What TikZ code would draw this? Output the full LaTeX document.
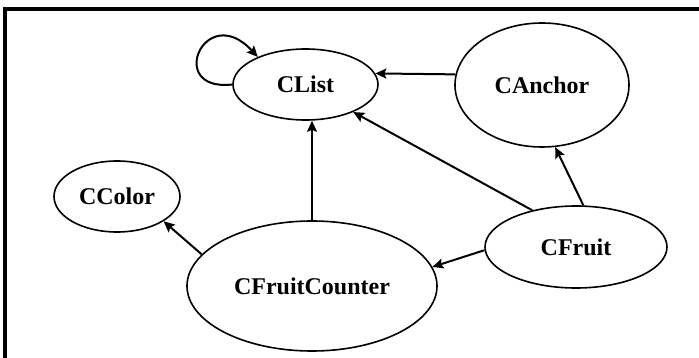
\documentclass[tikz,border=0pt]{standalone}
\usepackage{fontspec}
\setmainfont{Liberation Serif}
\usetikzlibrary{arrows.meta, shapes.geometric}
\begin{document}
\begin{tikzpicture}[x=1pt, y=-1pt,
  cls/.style={ellipse, draw, line width=1.6pt, inner sep=0pt,
    font=\bfseries\fontsize{24}{24}\selectfont},
  rel/.style={line width=2pt, -{Stealth[length=11pt, width=10pt, inset=2pt]}}]
\useasboundingbox (0,0) rectangle (699,358);
% frame on the top and left edges
\draw[line width=4pt] (5,358) -- (5,9) -- (699,9);

% classes
\node[cls, minimum width=145pt, minimum height=71pt]  (CList)         at (305.5,84.5) {CList};
\node[cls, minimum width=174pt, minimum height=124pt] (CAnchor)       at (542,85)     {CAnchor};
\node[cls, minimum width=126pt, minimum height=71pt]  (CColor)        at (117,196.5)  {CColor};
\node[cls, minimum width=250pt, minimum height=130pt] (CFruitCounter) at (312,286)    {CFruitCounter};
\node[cls, minimum width=182pt, minimum height=82pt]  (CFruit)        at (576,247)    {CFruit};

% relations
\draw[rel] (CList.180) .. controls (165,92) and (205,0) .. (CList.150);
\draw[rel] (CAnchor.173) -- (CList.9);
\draw[rel] (CFruit.140) -- (CList.330);
\draw[rel] (CFruit.80) -- (CAnchor.282);
\draw[rel] (CFruitCounter.north) -- (CList.south -| CFruitCounter.north);
\draw[rel] (CFruitCounter.164) -- (CColor.332);
\draw[rel] (CFruit.182) -- (CFruitCounter.9);
\end{tikzpicture}
\end{document}
